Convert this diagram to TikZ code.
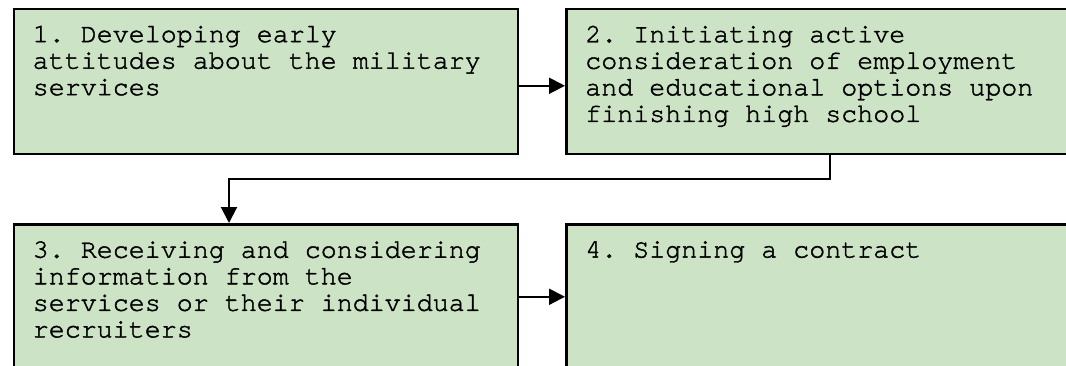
\documentclass[tikz,border=0pt]{standalone}
\usepackage{fontspec}
\setmonofont[Ligatures=NoCommon,FakeBold=1.6]{texgyrecursor-regular.otf}
\usetikzlibrary{arrows.meta}
\definecolor{stagegreen}{RGB}{204,228,197}
\begin{document}
\begin{tikzpicture}[x=0.75pt,y=-0.75pt,
    stage/.style={draw,line width=1.9pt,fill=stagegreen,minimum width=378pt,
      minimum height=108.75pt,inner sep=0pt,anchor=north west},
    stagetext/.style={anchor=north west,align=left,inner sep=0pt,
      font=\ttfamily\fontsize{20}{19.9}\selectfont},
    link/.style={line width=1.5pt,-{Triangle[length=12pt,width=12pt]}}]
  \useasboundingbox (0,0) rectangle (1066,365);
  \node[stage] (s1) at (12.5,7.5) {};
  \node[stage] (s2) at (565,7.5) {};
  \node[stage] (s3) at (12.5,223) {};
  \node[stage] (s4) at (565,223) {};
  \node[stagetext] (t1) at ([shift={(20,18)}]s1.north west)
    {1. Developing early\\attitudes about the military\\services};
  \node[stagetext] (t2) at ([shift={(20,18)}]s2.north west)
    {2. Initiating active\\consideration of employment\\and educational options upon\\finishing high school};
  \node[stagetext] (t3) at ([shift={(20,18)}]s3.north west)
    {3. Receiving and considering\\information from the\\services or their individual\\recruiters};
  \node[stagetext] (t4) at ([shift={(20,18)}]s4.north west)
    {4. Signing a contract};
  \draw[link] ([shift={(0,4.5)}]s1.east) -- ([shift={(0,4.5)}]s2.west);
  \draw[link] ([shift={(265,0)}]s2.south west) -- ++(0,24) -| ([shift={(216.5,0)}]s3.north west);
  \draw[link] (s3.east) -- (s4.west);
\end{tikzpicture}
\end{document}
